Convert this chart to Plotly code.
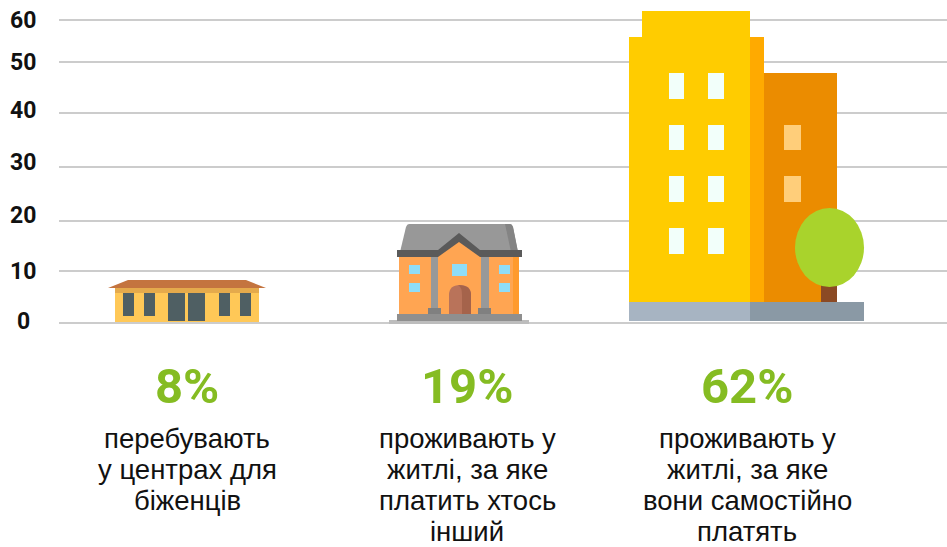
import plotly.graph_objects as go

# ---- data ----
categories = ["перебувають<br>у центрах для<br>біженців",
              "проживають у<br>житлі, за яке<br>платить хтось<br>інший",
              "проживають у<br>житлі, за яке<br>вони самостійно<br>платять"]
values = [8, 19, 62]
pct_labels = ["8%", "19%", "62%"]
tick_labels = ["0", "10", "20", "30", "40", "50", "60"]
# the source's gridlines are hand-placed and slightly uneven
grid_values = [0, 10.2, 20.2, 30.9, 41.6, 51.7, 60.1]
tick_label_shift = [1.5, 0, 5.5, 5, 3, 0, 0]

W, H = 947, 547
LEFT, BASE = 59, 322.5
PX_PER_UNIT = 5.03
PX_PER_CAT = 280
CAT0 = 187

def xd(px): return (px - CAT0) / PX_PER_CAT
def yd(py): return (BASE - py) / PX_PER_UNIT

shapes = []

def icon(value, art):
    """art: shapes in icon-local units (x from icon left, h above baseline), scaled so the icon's
    nominal height represents `value`."""
    nominal = value * PX_PER_UNIT
    def Y(h): return value * h / nominal
    def X(u): return xd(u)
    for a in art:
        kind = a[0]
        if kind == "r":
            _, x0, x1, h0, h1, c = a
            shapes.append(dict(type="rect", x0=X(x0), x1=X(x1), y0=Y(BASE-h0), y1=Y(BASE-h1),
                               fillcolor=c, line_width=0, layer="above"))
        elif kind == "e":
            _, x0, x1, h0, h1, c = a
            shapes.append(dict(type="circle", x0=X(x0), x1=X(x1), y0=Y(BASE-h0), y1=Y(BASE-h1),
                               fillcolor=c, line_width=0, layer="above"))
        elif kind == "p":
            _, cmds, c = a
            parts = []
            for cmd in cmds:
                if cmd[0] == "Z":
                    parts.append("Z")
                else:
                    pts = " ".join(f"{X(cmd[i]):.5f},{Y(BASE-cmd[i+1]):.5f}" for i in range(1, len(cmd), 2))
                    parts.append(cmd[0] + " " + pts)
            shapes.append(dict(type="path", path=" ".join(parts), fillcolor=c, line_width=0, layer="above"))

# low-rise centre
art1 = [
    ("r", 115, 259, 322, 288, "#FFC857"),
    ("r", 115, 259, 293, 288, "#E5AA4C"),
    ("p", [("M", 128, 280), ("L", 246, 280), ("L", 266, 288), ("L", 108, 288), ("Z",)], "#C4743F"),
]
for x0, x1 in [(123, 134), (144, 155), (219, 230), (240, 251)]:
    art1.append(("r", x0, x1, 316, 293, "#4F5F63"))
for x0, x1 in [(168, 185), (188, 205)]:
    art1.append(("r", x0, x1, 321, 293, "#4F5F63"))

# house
art2 = [
    ("r", 389, 529, 324, 320, "#BDBDBD"),
    ("p", [("M", 409, 224), ("L", 510, 224), ("Q", 512, 224, 513, 227), ("L", 518, 252), ("L", 400, 252),
           ("L", 406, 227), ("Q", 407, 224, 409, 224), ("Z",)], "#989898"),
    ("p", [("M", 505, 224), ("L", 510, 224), ("Q", 512, 224, 513, 227), ("L", 518, 252), ("L", 511, 252), ("Z",)], "#848484"),
    ("r", 399, 519, 314, 255, "#FFA552"),
    ("r", 513, 519, 314, 255, "#FF9A2E"),
    ("p", [("M", 397, 250), ("L", 438, 250), ("L", 459, 233), ("L", 480, 250), ("L", 522, 250), ("L", 522, 257),
           ("L", 397, 257), ("Z",)], "#5A5A5A"),
    ("p", [("M", 438, 257), ("L", 459, 242), ("L", 480, 257), ("Z",)], "#FFA552"),
    ("r", 431, 438, 308, 257, "#999999"),
    ("r", 481, 489, 308, 257, "#999999"),
    ("r", 428, 441, 314, 308, "#808080"),
    ("r", 478, 491, 314, 308, "#808080"),
    ("r", 397, 522, 321, 314, "#8F8F8F"),
    ("r", 409, 420, 274, 265, "#8FDDF7"),
    ("r", 409, 420, 292, 283, "#8FDDF7"),
    ("r", 452, 467, 276, 264, "#8FDDF7"),
    ("r", 499, 510, 274, 265, "#8FDDF7"),
    ("r", 499, 510, 292, 283, "#8FDDF7"),
    ("p", [("M", 449, 314), ("L", 449, 295), ("Q", 449, 285, 460, 285), ("Q", 471, 285, 471, 295), ("L", 471, 314), ("Z",)], "#B9735A"),
    ("p", [("M", 462, 314), ("L", 462, 295), ("Q", 462, 287, 458, 285), ("Q", 471, 285, 471, 295), ("L", 471, 314), ("Z",)], "#A5634B"),
]

# apartment blocks
art3 = [
    ("r", 629, 750, 302, 37, "#FFCC00"),
    ("r", 642, 750, 37, 11, "#FFCC00"),
    ("r", 750, 764, 302, 37, "#FFAA00"),
    ("r", 764, 837, 302, 73, "#EB8C00"),
    ("r", 629, 750, 321, 302, "#A7B4C2"),
    ("r", 750, 864, 321, 302, "#8A99A5"),
    ("r", 821, 837, 302, 285, "#8B4A24"),
    ("e", 795, 864, 287, 208, "#A9D32C"),
]
for t, b in [(73, 99), (125, 150), (176, 202), (228, 254)]:
    art3.append(("r", 669, 684, b, t, "#F2FFFA"))
    art3.append(("r", 708, 724, b, t, "#F2FFFA"))
for t, b in [(125, 150), (176, 202)]:
    art3.append(("r", 784, 801, b, t, "#FFCE7A"))

for v, art in zip(values, [art1, art2, art3]):
    icon(v, art)

# invisible trace carrying the values through the axes
fig = go.Figure(go.Scatter(x=[0, 1, 2], y=values, mode="markers", marker=dict(size=1, opacity=0),
                           showlegend=False, hoverinfo="skip"))

HEAD = "Roboto, Liberation Sans"
ann = []
for t, g, s in zip(tick_labels, grid_values, tick_label_shift):
    ann.append(dict(text=t, xref="paper", x=0, xshift=-36, y=g, yref="y", yshift=s, showarrow=False,
                    xanchor="center", yanchor="middle",
                    font=dict(family=HEAD, size=23, color="#111111", weight="bold")))
for i, (p, c) in enumerate(zip(pct_labels, categories)):
    ann.append(dict(text=p, x=i, xref="x", y=yd(386), yref="y", showarrow=False, xanchor="center", yanchor="middle",
                    font=dict(family=HEAD, size=49, color="#85BC22", weight="bold")))
    for k, line in enumerate(c.split("<br>")):
        ann.append(dict(text=line, x=i, xref="x", y=yd(438 + 31.3 * k), yref="y", showarrow=False,
                        xanchor="center", yanchor="middle",
                        font=dict(family="Liberation Sans", size=27.5, color="#111111")))

fig.update_layout(
    width=W, height=H, margin=dict(l=LEFT, r=0, t=0, b=0, pad=0, autoexpand=False),
    paper_bgcolor="white", plot_bgcolor="white", showlegend=False, shapes=shapes, annotations=ann,
    xaxis=dict(range=[xd(LEFT), xd(W)], visible=False, fixedrange=True),
    yaxis=dict(range=[yd(H), yd(0)], tickvals=grid_values, showticklabels=False, ticks="",
               showgrid=True, gridcolor="#CCCCCC", gridwidth=1.5, zeroline=False, showline=False, fixedrange=True),
)
fig.write_html("out.html", config={"displayModeBar": False},
               post_script="document.body.style.margin='0';document.body.style.overflow='hidden';")
